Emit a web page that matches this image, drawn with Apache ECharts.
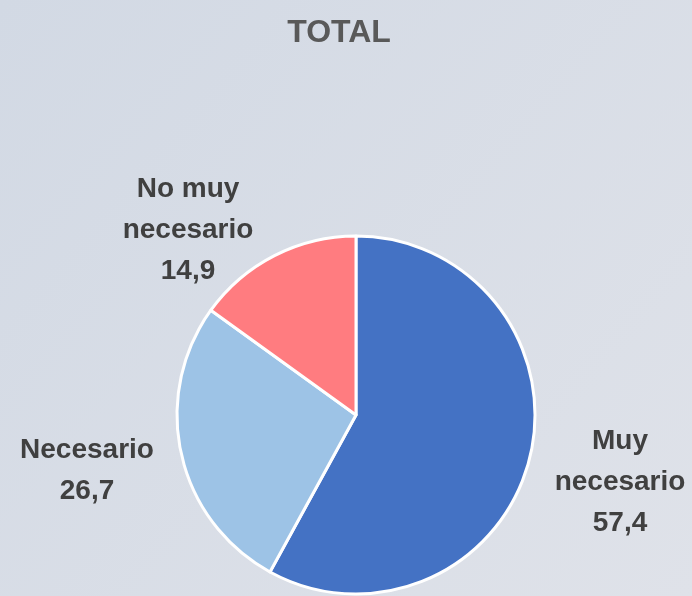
<!DOCTYPE html>
<html>
<head>
<meta charset="utf-8">
<script src="https://cdn.jsdelivr.net/npm/echarts@6/dist/echarts.min.js"></script>
<style>html,body{margin:0;padding:0;}#c{width:692px;height:596px;}</style>
</head>
<body>
<div id="c"></div>
<script>
var categories = ['Muy\nnecesario', 'Necesario', 'No muy\nnecesario'];
var values = [57.4, 26.7, 14.9];
var colors = ['#4472C4', '#9DC3E6', '#FF7C80'];
var labelPos = [[620, 482], [87, 471], [188, 230]];

var chart = echarts.init(document.getElementById('c'));
chart.setOption({
  backgroundColor: {
    type: 'linear', x: 0, y: 0, x2: 1, y2: 1,
    colorStops: [{offset: 0, color: '#d2d9e4'}, {offset: 1, color: '#dfe2e9'}]
  },
  title: {
    text: 'TOTAL', left: 334, top: 12, textAlign: 'center',
    textStyle: {fontFamily: 'Liberation Sans', fontWeight: 'bold', fontSize: 32, color: '#595959'}
  },
  series: [{
    type: 'pie',
    center: [356, 415],
    radius: 179,
    startAngle: 90,
    clockwise: true,
    animation: false,
    itemStyle: {borderColor: '#ffffff', borderWidth: 3},
    label: {
      show: true, position: 'outside', overflow: 'none', width: 300,
      fontFamily: 'Liberation Sans', fontWeight: 'bold', fontSize: 28, lineHeight: 41,
      color: '#404040', align: 'center',
      formatter: function (p) { return p.name + '\n' + String(p.value).replace('.', ','); }
    },
    labelLine: {show: false},
    labelLayout: function (p) {
      var pos = labelPos[p.dataIndex];
      return {x: pos[0], y: pos[1], align: 'center', verticalAlign: 'middle'};
    },
    data: categories.map(function (c, i) {
      return {name: c, value: values[i], itemStyle: {color: colors[i]}};
    })
  }]
});
</script>
</body>
</html>
